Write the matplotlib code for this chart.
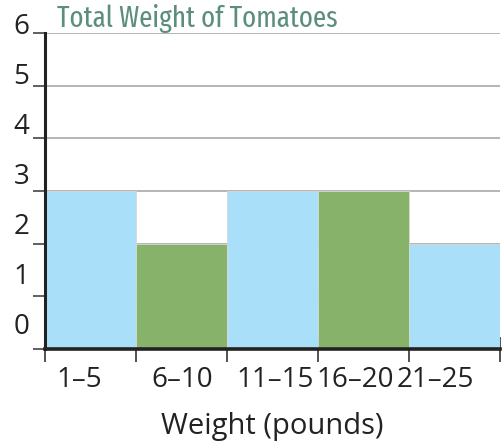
import matplotlib.pyplot as plt

# Tomato weights histogram data
categories = ['1–5', '6–10', '11–15', '16–20', '21–25']
counts = [3, 2, 3, 3, 2]
colors = ['#aadff9', '#87b26a', '#aadff9', '#87b26a', '#aadff9']
y_ticks = [0, 1, 2, 3, 4, 5, 6]
# small horizontal nudges of the category labels, as in the original
label_shift = [-0.12, 0.01, 0.03, -0.09, -0.21]

fig = plt.figure(figsize=(5.04, 4.42), dpi=100)
ax = fig.add_axes([45 / 504, (442 - 349) / 442, 455 / 504, 316 / 442])

x = list(range(len(categories)))
ax.bar(x, counts, width=1.0, color=colors, edgecolor='#d8d8d8', linewidth=0.6, zorder=2)

ax.set_xlim(-0.5, len(categories) - 0.5)
ax.set_ylim(0, 6)

# horizontal grid lines behind bars
for v in y_ticks[1:]:
    ax.axhline(v, color='#a9a9a9', linewidth=1.2, zorder=1)

# y ticks with labels shifted above tick marks
ax.set_yticks(y_ticks)
ax.set_yticklabels([])
ax.tick_params(axis='y', length=9, width=1.2, color='#444444')
for v in y_ticks:
    ax.text(-0.035, v * 0.95 + 0.42, str(v), transform=ax.get_yaxis_transform(),
            ha='right', va='center', fontsize=20, family='Open Sans', color='#222222')

# x ticks at bin edges, crossing the axis
edges = [i - 0.5 for i in range(len(categories) + 1)]
ax.set_xticks(edges)
ax.set_xticklabels([])
ax.tick_params(axis='x', direction='inout', length=18, width=1.2, color='#333333')
ax.set_xticks([i + s for i, s in zip(x, label_shift)], minor=True)
ax.set_xticklabels(categories, minor=True, fontsize=20, family='Open Sans', color='#222222')
ax.tick_params(axis='x', which='minor', length=0, pad=12)

ax.set_xlabel('Weight (pounds)', fontsize=21, family='Open Sans', color='#222222', labelpad=13)

for side in ['top', 'right']:
    ax.spines[side].set_visible(False)
ax.spines['left'].set_linewidth(2.2)
ax.spines['bottom'].set_linewidth(2.6)
ax.spines['left'].set_color('#222222')
ax.spines['bottom'].set_color('#222222')
ax.spines['left'].set_zorder(3)
ax.spines['bottom'].set_zorder(3)

fig.text(57 / 504, 1 - 27 / 442, 'Total Weight of Tomatoes', fontsize=21,
         family=['Fira Sans Extra Condensed', 'DejaVu Sans'], fontweight='normal',
         color='#5b8f7c', ha='left', va='baseline')

fig.savefig('out.png', dpi=100)
